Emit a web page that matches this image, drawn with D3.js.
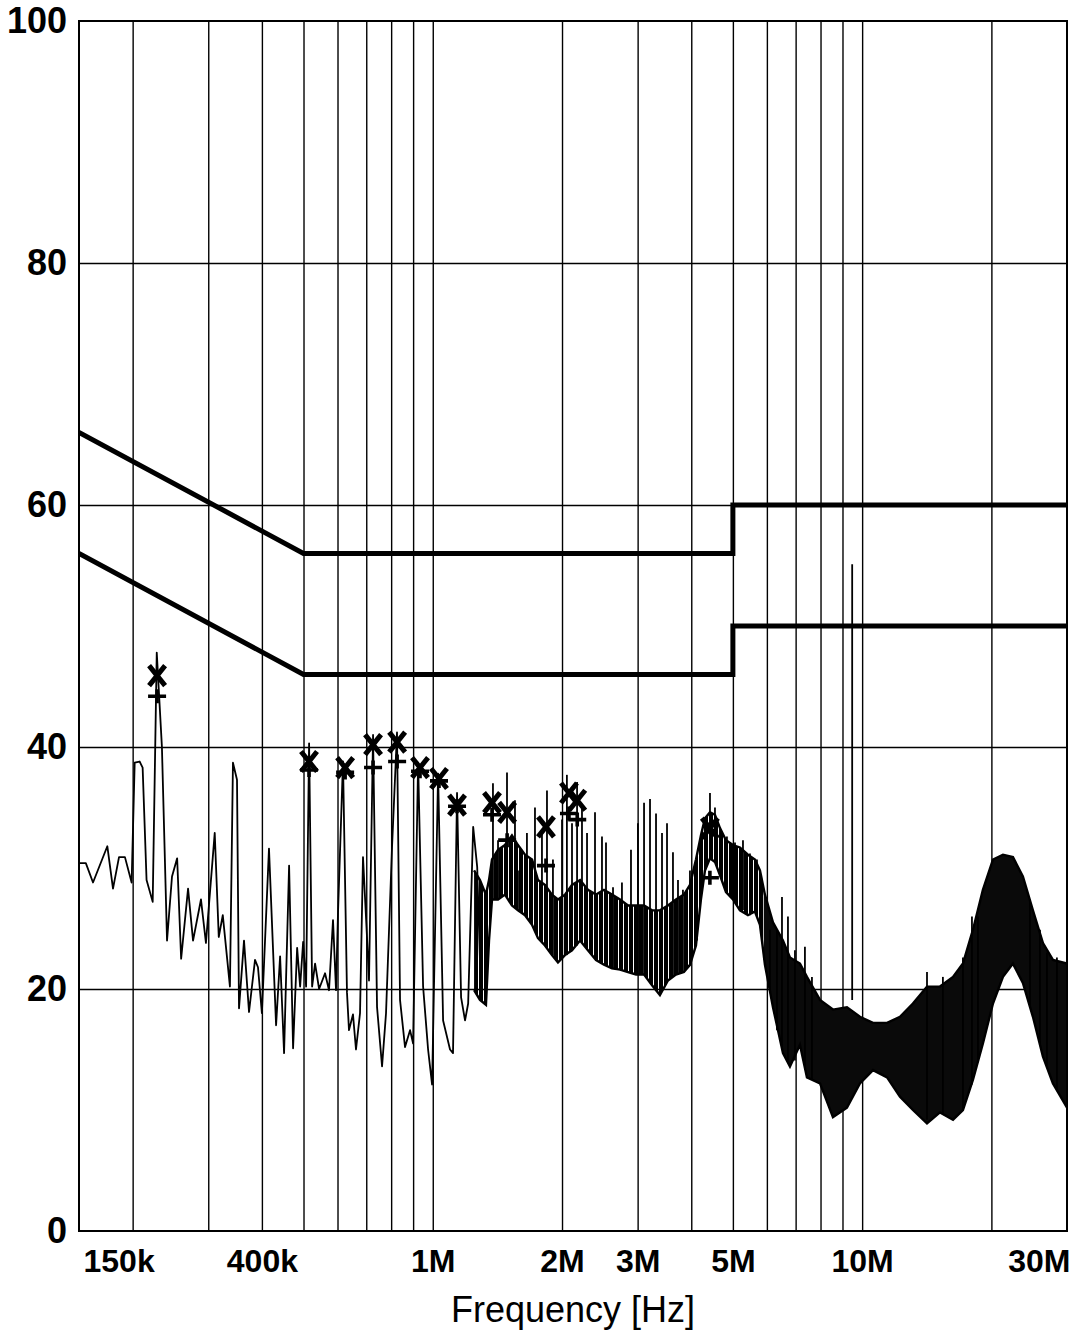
<!DOCTYPE html>
<html>
<head>
<meta charset="utf-8">
<script src="https://cdn.jsdelivr.net/npm/d3@7"></script>
<style>
  body { margin: 0; background: #fff; }
  svg { display: block; font-family: "Liberation Sans", Arial, sans-serif; }
</style>
</head>
<body>
<div id="chart"></div>
<script>
// frequencies in MHz, levels in dB

// ---------- limit lines ----------
const limitFreq = [0.15, 0.5, 5, 5, 30];
const qpLimit = [66, 56, 56, 60, 60];
const avLimit = [56, 46, 46, 50, 50];

// ---------- low band trace (150k - 1.3M) ----------
const traceFreq = [
  0.1503, 0.1556, 0.1617, 0.1746, 0.1800, 0.1859, 0.1919, 0.1989, 0.2022, 0.2076,
  0.2110, 0.2155, 0.2227, 0.2276, 0.2340, 0.2405, 0.2470, 0.2539, 0.2594, 0.2692,
  0.2765, 0.2885, 0.2963, 0.3106, 0.3174, 0.3243, 0.3370, 0.3425, 0.3500, 0.3538,
  0.3634, 0.3733, 0.3855, 0.3917, 0.4000, 0.4155, 0.4316, 0.4410, 0.4505, 0.4628,
  0.4728, 0.4832, 0.4910, 0.4990, 0.5070, 0.5152, 0.5236, 0.5320, 0.5436, 0.5612,
  0.5733, 0.5857, 0.5952, 0.6016, 0.6179, 0.6313, 0.6381, 0.6519, 0.6625, 0.6770,
  0.6879, 0.7028, 0.7104, 0.7260, 0.7417, 0.7619, 0.7783, 0.8037, 0.8255, 0.8390,
  0.8618, 0.8853, 0.9000, 0.9244, 0.9495, 0.9752, 0.9964, 1.0290, 1.0570, 1.0970,
  1.1147, 1.139, 1.164, 1.189, 1.209, 1.242, 1.269, 1.288
];
const traceLevel = [
  30.4, 30.4, 28.8, 31.8, 28.3, 30.9, 30.9, 28.8, 38.7, 38.8,
  38.3, 29.0, 27.2, 47.8, 40.0, 24.0, 29.3, 30.8, 22.5, 28.3,
  24.0, 27.4, 23.8, 32.9, 24.3, 26.1, 20.2, 38.7, 37.3, 18.4,
  24.0, 18.1, 22.4, 21.8, 18.0, 31.6, 17.0, 22.7, 14.7, 30.2,
  15.1, 23.4, 20.2, 23.9, 20.2, 40.3, 20.2, 22.1, 20.0, 21.3,
  19.9, 25.7, 19.9, 26.3, 38.8, 19.7, 16.6, 17.9, 15.0, 18.0,
  30.9, 24.3, 20.7, 41.0, 18.5, 13.6, 18.0, 31.7, 41.2, 19.1,
  15.2, 16.6, 15.5, 38.7, 20.2, 15.0, 12.1, 37.8, 17.4, 15.0,
  14.7, 36.2, 19.3, 17.4, 18.8, 33.4, 30.1, 22.4
];

// ---------- dense band (1.25M - 30M): upper / lower envelope ----------
const bandFreq = [
  1.248, 1.288, 1.330, 1.352, 1.374, 1.419, 1.473, 1.529, 1.579, 1.640,
  1.703, 1.758, 1.825, 1.895, 1.957, 2.032, 2.110, 2.203, 2.298, 2.400,
  2.505, 2.615, 2.730, 2.849, 2.975, 3.105, 3.241, 3.381, 3.530, 3.684,
  3.846, 3.972, 4.102, 4.213, 4.305, 4.422, 4.542, 4.666, 4.818, 5.002,
  5.193, 5.421, 5.628, 5.781, 5.938, 6.199, 6.540, 6.790, 7.164, 7.438,
  7.977, 8.552, 9.217, 9.882, 10.60, 11.43, 12.25, 13.13, 14.16, 15.18,
  16.28, 17.17, 18.12, 19.11, 20.17, 21.28, 22.45, 23.68, 24.99, 26.37,
  27.82, 30.0
];
const bandHi = [
  29.8, 29.0, 27.8, 29.0, 30.7, 31.5, 31.9, 32.7, 31.9, 31.1,
  30.7, 29.0, 28.6, 27.8, 27.4, 27.8, 28.6, 29.0, 28.2, 27.8,
  28.2, 27.8, 27.4, 26.9, 26.9, 26.9, 26.5, 26.5, 26.9, 27.4,
  27.8, 28.6, 30.7, 32.7, 34.1, 34.6, 34.4, 33.3, 32.3, 31.9,
  31.7, 31.1, 30.7, 29.8, 27.8, 25.5, 24.0, 22.6, 22.1, 21.0,
  19.1, 18.3, 18.5, 17.7, 17.2, 17.2, 17.7, 18.8, 20.2, 20.2,
  21.0, 22.1, 24.9, 28.2, 30.7, 31.1, 30.9, 29.3, 26.5, 23.8,
  22.4, 22.1
];
const bandLo = [
  19.9, 19.1, 18.7, 24.0, 27.4, 27.4, 27.8, 26.9, 26.5, 26.1,
  25.3, 24.2, 23.6, 22.8, 22.2, 22.8, 23.2, 24.0, 23.2, 22.4,
  22.0, 21.7, 21.6, 21.4, 21.2, 21.2, 20.3, 19.5, 20.7, 21.2,
  21.4, 22.0, 23.6, 27.4, 29.8, 30.8, 30.5, 29.4, 28.0, 27.4,
  26.5, 26.1, 26.4, 25.3, 22.0, 18.5, 14.7, 13.6, 15.4, 12.7,
  12.2, 9.4, 10.2, 12.2, 13.3, 12.7, 11.1, 10.0, 8.9, 9.8,
  9.2, 10.0, 12.5, 15.5, 18.8, 21.0, 22.1, 20.5, 17.7, 14.4,
  12.2, 10.2
];

// ---------- single spikes above the band ----------
const spikeFreq = [
  1.381, 1.419, 1.489, 1.554, 1.579, 1.657, 1.730, 1.796, 1.845, 1.905,
  2.000, 2.053, 2.110, 2.168, 2.226, 2.287, 2.387, 2.478, 2.532, 2.629,
  2.758, 2.895, 3.005, 3.105, 3.206, 3.311, 3.419, 3.512, 3.626, 3.725,
  3.825, 3.972, 4.125, 4.422, 4.542, 4.843, 5.057, 5.278, 5.479, 5.689,
  6.100, 6.334, 6.506, 6.718, 6.975, 7.358, 7.640, 9.48, 14.16, 15.42,
  17.17, 18.02, 18.61, 24.59, 25.95, 26.94, 28.42
];
const spikeTop = [
  37.0, 32.3, 37.9, 35.6, 29.8, 32.9, 35.0, 33.1, 36.4, 30.7,
  34.0, 37.7, 33.7, 37.1, 35.0, 32.9, 34.6, 32.6, 32.1, 28.4,
  28.8, 31.5, 33.7, 35.4, 35.7, 34.5, 32.9, 33.7, 31.3, 29.0,
  28.2, 29.8, 30.9, 36.2, 35.0, 32.6, 32.1, 32.3, 31.2, 30.7,
  24.9, 24.9, 27.6, 26.0, 23.2, 23.5, 21.0, 55.1, 21.4, 21.0,
  22.6, 26.0, 26.0, 27.4, 24.9, 23.0, 22.6
];
const spikeBase = [
  27.4, 27.4, 27.8, 26.9, 26.5, 26.1, 24.9, 24.0, 23.6, 22.8,
  22.4, 22.8, 23.2, 23.6, 23.9, 23.4, 22.6, 22.2, 22.0, 21.7,
  21.6, 21.4, 21.2, 21.2, 20.7, 19.9, 19.8, 20.6, 21.1, 21.2,
  21.4, 22.0, 24.0, 30.8, 30.5, 28.0, 27.4, 26.5, 26.1, 26.1,
  19.9, 16.6, 15.0, 14.1, 14.1, 13.3, 12.5, 19.1, 9.2, 9.6,
  10.0, 12.1, 14.1, 18.7, 15.4, 13.7, 11.7
];

// ---------- markers: quasi-peak (x) and average (+) ----------
const markFreq = [0.228, 0.515, 0.625, 0.726, 0.826, 0.934, 1.034, 1.139, 1.374, 1.49, 1.835, 2.076, 2.17, 4.42];
const qpLevel = [45.9, 38.8, 38.3, 40.2, 40.4, 38.3, 37.4, 35.2, 35.4, 34.6, 33.4, 36.2, 35.6, 33.3];
const avLevel = [44.2, 38.1, 37.9, 38.3, 38.8, 38.0, 37.2, 35.1, 34.4, 32.3, 30.2, 34.5, 34.0, 29.2];

// ---------- axes ----------
const gridFreq = [0.2, 0.3, 0.4, 0.5, 0.6, 0.7, 0.8, 0.9, 1, 2, 3, 4, 5, 6, 7, 8, 9, 10, 20];
const xTickValues = [0.15, 0.4, 1, 2, 3, 5, 10, 30];
const xTickLabels = ['150k', '400k', '1M', '2M', '3M', '5M', '10M', '30M'];
const yTickValues = [0, 20, 40, 60, 80, 100];
const xAxisLabel = 'Frequency [Hz]';

const width = 1075, height = 1335;
const margin = { top: 21, right: 8, bottom: 104, left: 79 };
const plotW = width - margin.left - margin.right;
const plotH = height - margin.top - margin.bottom;

const svg = d3.select('#chart').append('svg')
  .attr('width', width)
  .attr('height', height);

const defs = svg.append('defs');
const hatch = defs.append('pattern')
  .attr('id', 'hatch')
  .attr('patternUnits', 'userSpaceOnUse')
  .attr('width', 5)
  .attr('height', 6);
hatch.append('rect').attr('width', 4).attr('height', 6).attr('fill', '#000');

defs.append('clipPath').attr('id', 'plotClip')
  .append('rect').attr('width', plotW).attr('height', plotH);

const x = d3.scaleLog().domain([0.15, 30]).range([0, plotW]);
const y = d3.scaleLinear().domain([0, 100]).range([plotH, 0]);

const g = svg.append('g')
  .attr('transform', `translate(${margin.left},${margin.top})`);

// ---------- grid ----------
g.append('g')
  .attr('class', 'grid')
  .attr('transform', `translate(0,${plotH})`)
  .call(d3.axisBottom(x).tickValues(gridFreq).tickSize(-plotH).tickFormat(''))
  .call(s => s.select('.domain').remove())
  .selectAll('line').attr('stroke', '#000').attr('stroke-width', 1.4);

g.append('g')
  .attr('class', 'grid')
  .call(d3.axisLeft(y).tickValues([20, 40, 60, 80]).tickSize(-plotW).tickFormat(''))
  .call(s => s.select('.domain').remove())
  .selectAll('line').attr('stroke', '#000').attr('stroke-width', 1.4);

// ---------- tick labels ----------
const xAxis = g.append('g')
  .attr('transform', `translate(0,${plotH})`)
  .call(d3.axisBottom(x).tickValues(xTickValues).tickSize(0).tickPadding(18)
    .tickFormat((d, i) => xTickLabels[i]));
xAxis.select('.domain').remove();
xAxis.selectAll('text')
  .attr('fill', '#000')
  .style('font-size', '32px')
  .style('font-weight', 'bold')
  .style('font-family', '"Liberation Sans", Arial, sans-serif')
  .attr('text-anchor', (d, i) => i === 0 ? 'start' : (i === xTickValues.length - 1 ? 'end' : 'middle'))
  .attr('dx', (d, i) => i === 0 ? 4 : (i === xTickValues.length - 1 ? 3 : 0));

const yAxis = g.append('g')
  .call(d3.axisLeft(y).tickValues(yTickValues).tickSize(0).tickPadding(12));
yAxis.select('.domain').remove();
yAxis.selectAll('text')
  .attr('fill', '#000')
  .style('font-size', '36px')
  .style('font-weight', 'bold')
  .style('font-family', '"Liberation Sans", Arial, sans-serif');

g.append('text')
  .attr('x', x(Math.sqrt(0.15 * 30)))
  .attr('y', plotH + 91)
  .attr('text-anchor', 'middle')
  .style('font-size', '36px')
  .text(xAxisLabel);

// ---------- data ----------
const plot = g.append('g').attr('clip-path', 'url(#plotClip)');

const lineGen = d3.line()
  .x(d => x(d[0]))
  .y(d => y(d[1]));

// limits
[qpLimit, avLimit].forEach(lim => {
  plot.append('path')
    .attr('d', lineGen(limitFreq.map((f, i) => [f, lim[i]])))
    .attr('fill', 'none')
    .attr('stroke', '#000')
    .attr('stroke-width', 5)
    .attr('stroke-linejoin', 'miter');
});

// low trace
plot.append('path')
  .attr('d', lineGen(traceFreq.map((f, i) => [f, traceLevel[i]])))
  .attr('fill', 'none')
  .attr('stroke', '#000')
  .attr('stroke-width', 1.8)
  .attr('stroke-linejoin', 'round');

// dense band
const bandData = bandFreq.map((f, i) => ({ f, hi: bandHi[i], lo: bandLo[i] }));
const area = d3.area()
  .x(d => x(d.f))
  .y0(d => y(d.lo))
  .y1(d => y(d.hi));

const splitF = 5.9;
defs.append('clipPath').attr('id', 'clipLeft')
  .append('rect').attr('x', 0).attr('y', 0).attr('width', x(splitF)).attr('height', plotH);
defs.append('clipPath').attr('id', 'clipRight')
  .append('rect').attr('x', x(splitF)).attr('y', 0).attr('width', plotW - x(splitF)).attr('height', plotH);

plot.append('path')
  .attr('d', area(bandData))
  .attr('fill', 'url(#hatch)')
  .attr('clip-path', 'url(#clipLeft)');
plot.append('path')
  .attr('d', area(bandData))
  .attr('fill', '#0a0a0a')
  .attr('clip-path', 'url(#clipRight)');

[d => d.hi, d => d.lo].forEach(acc => {
  plot.append('path')
    .attr('d', d3.line().x(d => x(d.f)).y(d => y(acc(d)))(bandData))
    .attr('fill', 'none')
    .attr('stroke', '#000')
    .attr('stroke-width', 2.4);
});

// spikes
plot.selectAll('.spike')
  .data(spikeFreq.map((f, i) => ({ f, top: spikeTop[i], base: spikeBase[i] })))
  .enter()
  .append('line')
  .attr('class', 'spike')
  .attr('x1', d => x(d.f))
  .attr('x2', d => x(d.f))
  .attr('y1', d => y(d.top))
  .attr('y2', d => y(d.base))
  .attr('stroke', '#000')
  .attr('stroke-width', 1.8);

// markers
const marks = markFreq.map((f, i) => ({ f, qp: qpLevel[i], av: avLevel[i] }));
plot.selectAll('.av')
  .data(marks)
  .enter()
  .append('path')
  .attr('class', 'av')
  .attr('transform', d => `translate(${x(d.f)},${y(d.av)})`)
  .attr('d', 'M-9,0H9M0,-7V7')
  .attr('stroke', '#000')
  .attr('stroke-width', 3.6)
  .attr('fill', 'none');
plot.selectAll('.qp')
  .data(marks)
  .enter()
  .append('path')
  .attr('class', 'qp')
  .attr('transform', d => `translate(${x(d.f)},${y(d.qp)})`)
  .attr('d', 'M-8,-10L8,10M8,-10L-8,10')
  .attr('stroke', '#000')
  .attr('stroke-width', 5)
  .attr('fill', 'none');

// frame
g.append('rect')
  .attr('width', plotW)
  .attr('height', plotH)
  .attr('fill', 'none')
  .attr('stroke', '#000')
  .attr('stroke-width', 2);
</script>
</body>
</html>
